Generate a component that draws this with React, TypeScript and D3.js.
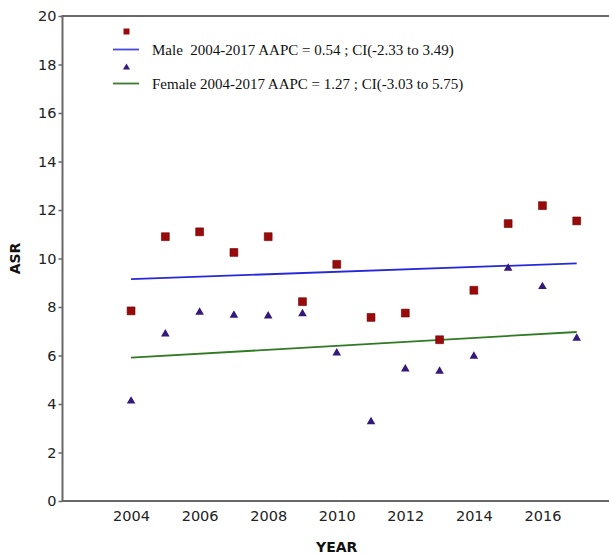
import React, { useRef, useEffect } from 'react';
import * as d3 from 'd3';

const years = [2004, 2005, 2006, 2007, 2008, 2009, 2010, 2011, 2012, 2013, 2014, 2015, 2016, 2017];
const maleAsr = [7.84, 10.9, 11.1, 10.25, 10.9, 8.22, 9.76, 7.57, 7.75, 6.65, 8.69, 11.44, 12.18, 11.55];
const femaleAsr = [4.12, 6.89, 7.78, 7.66, 7.63, 7.72, 6.1, 3.27, 5.44, 5.35, 5.97, 9.6, 8.84, 6.71];
const trendYears = [2004, 2017];
const maleTrend = [9.15, 9.8];
const femaleTrend = [5.91, 6.97];
const xTicks = [2004, 2006, 2008, 2010, 2012, 2014, 2016];
const yTicks = [0, 2, 4, 6, 8, 10, 12, 14, 16, 18, 20];
const maleLabel = 'Male  2004-2017 AAPC = 0.54 ; CI(-2.33 to 3.49)';
const femaleLabel = 'Female 2004-2017 AAPC = 1.27 ; CI(-3.03 to 5.75)';

const App = () => {
    const svgRef = useRef(null);

    useEffect(() => {
        const width = 609;
        const height = 555;
        const margin = { top: 16, right: -2, bottom: 54, left: 62.5 };

        const svg = d3.select(svgRef.current);
        svg.selectAll('*').remove();

        const x = d3.scaleLinear()
            .domain([2002, 2018])
            .range([margin.left, width - margin.right]);
        const y = d3.scaleLinear()
            .domain([0, 20])
            .range([height - margin.bottom, margin.top]);

        const axisColor = '#686868';
        const sans = 'DejaVu Sans, Verdana, sans-serif';

        // frame (right side falls outside the picture)
        svg.append('rect')
            .attr('x', x(2002))
            .attr('y', y(20))
            .attr('width', x(2018) - x(2002))
            .attr('height', y(0) - y(20))
            .attr('fill', 'none')
            .attr('stroke', axisColor)
            .attr('stroke-width', 2);

        // y axis
        const yAxis = svg.append('g')
            .attr('transform', `translate(${margin.left}, 0)`)
            .call(d3.axisLeft(y).tickValues(yTicks).tickSize(4).tickPadding(2));
        yAxis.select('.domain').remove();
        yAxis.selectAll('line').attr('stroke', axisColor).attr('stroke-width', 1.5);
        yAxis.selectAll('text')
            .attr('font-family', sans)
            .attr('font-size', 14.5)
            .attr('fill', '#222');

        // x axis
        const xAxis = svg.append('g')
            .attr('transform', `translate(0, ${y(0)})`)
            .call(d3.axisBottom(x).tickValues(xTicks).tickFormat(d3.format('d')).tickSize(0).tickPadding(10));
        xAxis.select('.domain').remove();
        xAxis.selectAll('text')
            .attr('font-family', sans)
            .attr('font-size', 14.5)
            .attr('fill', '#222');

        // axis titles
        svg.append('text')
            .attr('x', (x(2002) + x(2018)) / 2)
            .attr('y', 552)
            .attr('text-anchor', 'middle')
            .attr('font-family', sans)
            .attr('font-weight', 'bold')
            .attr('font-size', 14)
            .attr('fill', '#111')
            .text('YEAR');

        svg.append('text')
            .attr('transform', `translate(20, ${(y(0) + y(20)) / 2}) rotate(-90)`)
            .attr('text-anchor', 'middle')
            .attr('font-family', sans)
            .attr('font-weight', 'bold')
            .attr('font-size', 14)
            .attr('fill', '#111')
            .text('ASR');

        // trend lines
        const line = d3.line()
            .x((d, i) => x(trendYears[i]))
            .y((d) => y(d));

        svg.append('path')
            .datum(maleTrend)
            .attr('fill', 'none')
            .attr('stroke', '#2828d8')
            .attr('stroke-width', 1.8)
            .attr('d', line);

        svg.append('path')
            .datum(femaleTrend)
            .attr('fill', 'none')
            .attr('stroke', '#2f7a22')
            .attr('stroke-width', 1.8)
            .attr('d', line);

        const square = d3.symbol().type(d3.symbolSquare).size(62);
        const triangle = d3.symbol().type(d3.symbolTriangle).size(32);

        svg.append('g')
            .selectAll('path')
            .data(femaleAsr)
            .join('path')
            .attr('transform', (d, i) => `translate(${x(years[i])}, ${y(d)})`)
            .attr('d', triangle)
            .attr('fill', '#34197a');

        svg.append('g')
            .selectAll('path')
            .data(maleAsr)
            .join('path')
            .attr('transform', (d, i) => `translate(${x(years[i])}, ${y(d)})`)
            .attr('d', square)
            .attr('fill', '#9a0a0a')
            .attr('stroke', '#6a0000')
            .attr('stroke-width', 0.6);

        // legend
        const legend = svg.append('g');
        const serif = 'Liberation Serif, Times New Roman, serif';
        legend.append('path')
            .attr('transform', 'translate(126.5, 31.5)')
            .attr('d', d3.symbol().type(d3.symbolSquare).size(36))
            .attr('fill', '#9a0a0a');
        legend.append('line')
            .attr('x1', 113).attr('x2', 139).attr('y1', 49.5).attr('y2', 49.5)
            .attr('stroke', '#4a4ad8').attr('stroke-width', 1.8);
        legend.append('text')
            .attr('x', 152).attr('y', 54.5)
            .attr('font-family', serif).attr('font-size', 15)
            .attr('fill', '#111')
            .style('white-space', 'pre')
            .text(maleLabel);

        legend.append('path')
            .attr('transform', 'translate(126.5, 67.5)')
            .attr('d', d3.symbol().type(d3.symbolTriangle).size(22))
            .attr('fill', '#34197a');
        legend.append('line')
            .attr('x1', 113).attr('x2', 139).attr('y1', 83.5).attr('y2', 83.5)
            .attr('stroke', '#3c7a30').attr('stroke-width', 1.8);
        legend.append('text')
            .attr('x', 152).attr('y', 88.5)
            .attr('font-family', serif).attr('font-size', 15)
            .attr('fill', '#111')
            .text(femaleLabel);
    }, []);

    return (
        <svg
            ref={svgRef}
            width={609}
            height={555}
            style={{ position: 'absolute', left: 0, top: 0, background: '#fff' }}
        ></svg>
    );
};

export default App;
